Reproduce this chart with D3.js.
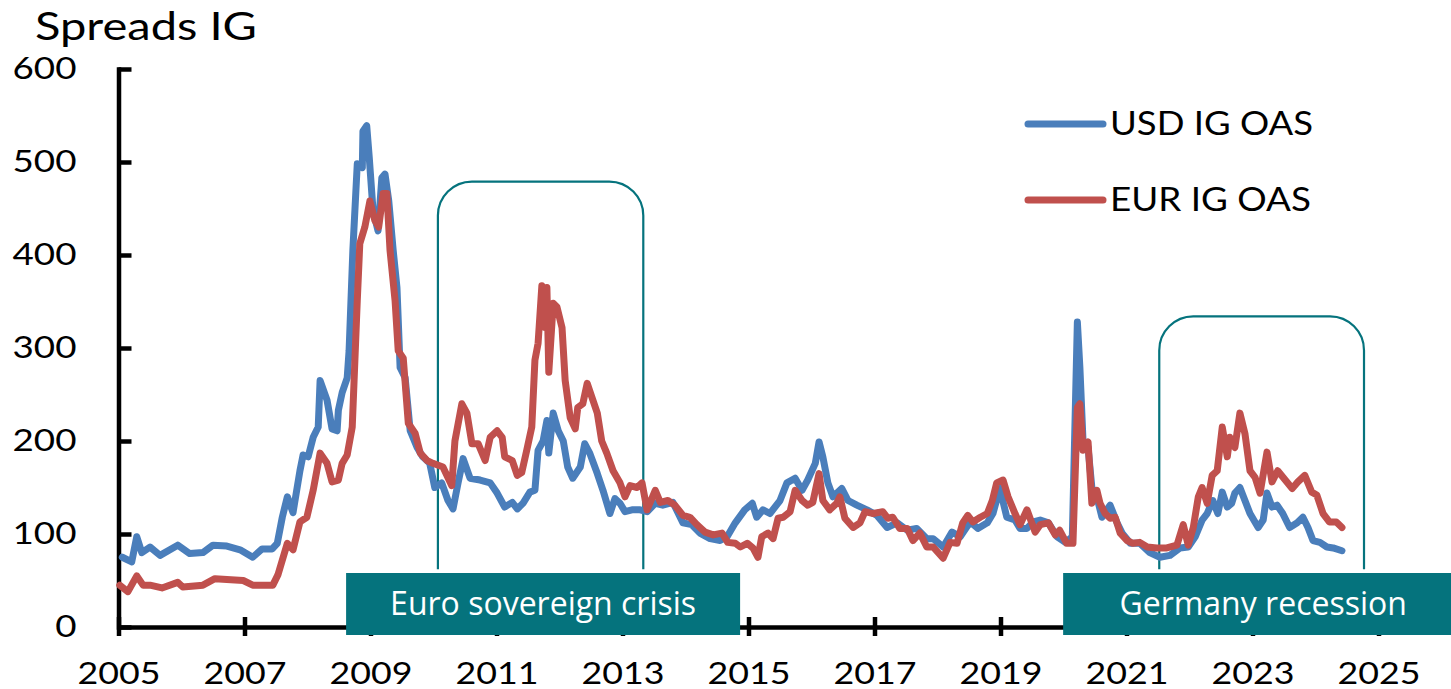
<!DOCTYPE html>
<html>
<head>
<meta charset="utf-8">
<script src="https://cdn.jsdelivr.net/npm/d3@7"></script>
<style>
  body { margin: 0; background: #fff; }
  svg text { font-family: Lato, "Open Sans", sans-serif; }
</style>
</head>
<body>
<svg id="chart" width="1451" height="689"></svg>
<script>
// ---- data ----
const yearTicks = [2005, 2007, 2009, 2011, 2013, 2015, 2017, 2019, 2021, 2023, 2025];
const valueTicks = [0, 100, 200, 300, 400, 500, 600];
const seriesNames = ["USD IG OAS", "EUR IG OAS"];

// [decimal year, spread in bp]
const usdSeries = [
  [2005.06,75],[2005.21,70],[2005.29,97],[2005.37,80],[2005.50,86],[2005.66,77],[2005.94,88],
  [2006.13,79],[2006.34,80],[2006.50,88],[2006.72,87],[2006.93,83],[2007.13,75],[2007.28,84],
  [2007.44,84],[2007.52,90],[2007.60,118],[2007.68,140],[2007.77,123],[2007.88,168],[2007.93,185],
  [2008.01,183],[2008.09,204],[2008.17,215],[2008.20,265],[2008.31,244],[2008.39,213],[2008.47,211],
  [2008.49,233],[2008.55,252],[2008.63,268],[2008.66,297],[2008.72,405],[2008.79,498],[2008.87,494],
  [2008.88,533],[2008.94,539],[2008.98,505],[2009.04,448],[2009.12,426],[2009.18,483],[2009.23,487],
  [2009.29,458],[2009.36,405],[2009.42,365],[2009.47,279],[2009.55,268],[2009.63,211],[2009.74,193],
  [2009.83,183],[2009.94,176],[2010.02,150],[2010.13,155],[2010.23,136],[2010.31,127],[2010.39,155],
  [2010.47,181],[2010.58,160],[2010.74,158],[2010.90,155],[2011.01,144],[2011.13,129],[2011.25,134],
  [2011.33,127],[2011.42,133],[2011.53,145],[2011.61,147],[2011.66,190],[2011.74,200],[2011.80,222],
  [2011.83,187],[2011.90,230],[2011.98,211],[2012.06,200],[2012.13,172],[2012.21,160],[2012.33,172],
  [2012.40,197],[2012.48,187],[2012.60,165],[2012.69,147],[2012.80,122],[2012.88,138],[2012.96,133],
  [2013.04,124],[2013.15,126],[2013.28,126],[2013.39,124],[2013.52,133],[2013.64,131],[2013.80,134],
  [2013.96,112],[2014.10,110],[2014.23,101],[2014.39,95],[2014.55,93],[2014.66,97],[2014.79,112],
  [2014.94,126],[2015.06,133],[2015.13,118],[2015.23,126],[2015.34,122],[2015.50,136],[2015.61,155],
  [2015.74,160],[2015.85,147],[2015.94,158],[2016.06,176],[2016.12,199],[2016.18,183],[2016.26,155],
  [2016.34,140],[2016.48,149],[2016.58,136],[2016.72,131],[2016.88,126],[2017.04,120],[2017.20,107],
  [2017.36,112],[2017.52,104],[2017.67,106],[2017.83,95],[2017.93,95],[2018.09,86],[2018.23,102],
  [2018.36,97],[2018.52,113],[2018.64,106],[2018.79,112],[2018.88,122],[2018.99,149],[2019.10,118],
  [2019.23,115],[2019.31,106],[2019.42,106],[2019.52,113],[2019.63,115],[2019.76,112],[2019.90,97],
  [2020.03,91],[2020.14,97],[2020.22,328],[2020.26,279],[2020.31,200],[2020.39,193],[2020.45,150],
  [2020.53,140],[2020.61,118],[2020.69,126],[2020.74,131],[2020.85,112],[2020.93,101],[2021.06,90],
  [2021.21,90],[2021.37,80],[2021.53,75],[2021.69,77],[2021.85,85],[2021.98,86],[2022.09,97],
  [2022.20,115],[2022.28,122],[2022.37,136],[2022.45,122],[2022.52,145],[2022.60,129],[2022.67,133],
  [2022.72,144],[2022.80,150],[2022.88,136],[2022.96,122],[2023.09,107],[2023.17,115],[2023.23,144],
  [2023.31,129],[2023.39,131],[2023.48,122],[2023.59,107],[2023.71,112],[2023.80,118],[2023.88,107],
  [2023.96,93],[2024.07,91],[2024.18,86],[2024.28,85],[2024.42,82]
];

const eurSeries = [
  [2005.02,45],[2005.15,38],[2005.29,55],[2005.39,45],[2005.50,45],[2005.69,42],[2005.94,48],
  [2006.02,43],[2006.34,45],[2006.53,52],[2006.72,51],[2006.98,50],[2007.13,45],[2007.45,45],
  [2007.53,56],[2007.68,90],[2007.77,83],[2007.88,113],[2007.99,118],[2008.09,147],[2008.20,187],
  [2008.31,176],[2008.39,156],[2008.49,158],[2008.55,176],[2008.63,185],[2008.71,215],[2008.79,351],
  [2008.83,412],[2008.91,430],[2008.99,458],[2009.07,437],[2009.13,430],[2009.20,466],[2009.26,466],
  [2009.31,405],[2009.39,351],[2009.44,297],[2009.52,289],[2009.60,219],[2009.71,208],[2009.79,187],
  [2009.90,179],[2009.99,176],[2010.15,172],[2010.29,152],[2010.34,200],[2010.45,240],[2010.53,230],
  [2010.61,197],[2010.71,197],[2010.82,179],[2010.90,204],[2011.01,211],[2011.09,204],[2011.13,183],
  [2011.25,179],[2011.33,163],[2011.40,166],[2011.48,190],[2011.56,215],[2011.61,287],[2011.66,305],
  [2011.72,367],[2011.77,322],[2011.80,365],[2011.83,274],[2011.90,348],[2011.96,344],[2012.04,322],
  [2012.09,265],[2012.17,225],[2012.25,213],[2012.29,236],[2012.37,240],[2012.44,262],[2012.48,254],
  [2012.60,230],[2012.67,200],[2012.75,187],[2012.85,168],[2012.96,155],[2013.04,140],[2013.12,152],
  [2013.23,150],[2013.31,155],[2013.39,126],[2013.52,147],[2013.60,134],[2013.72,136],[2013.83,131],
  [2013.96,120],[2014.07,118],[2014.18,110],[2014.31,102],[2014.44,99],[2014.58,101],[2014.67,91],
  [2014.79,90],[2014.87,86],[2014.98,90],[2015.07,85],[2015.15,75],[2015.21,97],[2015.31,101],
  [2015.39,95],[2015.47,117],[2015.55,118],[2015.66,124],[2015.74,147],[2015.85,136],[2015.94,131],
  [2016.02,134],[2016.12,165],[2016.18,136],[2016.29,126],[2016.40,133],[2016.45,140],[2016.53,117],
  [2016.66,107],[2016.77,112],[2016.85,124],[2016.98,122],[2017.13,124],[2017.21,117],[2017.29,118],
  [2017.40,106],[2017.52,106],[2017.61,93],[2017.72,101],[2017.83,86],[2017.93,86],[2018.09,74],
  [2018.20,91],[2018.31,90],[2018.40,112],[2018.48,120],[2018.56,113],[2018.68,118],[2018.79,122],
  [2018.87,136],[2018.94,155],[2019.04,158],[2019.12,140],[2019.23,122],[2019.31,110],[2019.42,126],
  [2019.55,102],[2019.63,110],[2019.76,112],[2019.87,99],[2019.94,104],[2020.05,90],[2020.15,90],
  [2020.22,236],[2020.26,240],[2020.31,190],[2020.39,199],[2020.45,133],[2020.53,147],[2020.58,133],
  [2020.66,122],[2020.74,117],[2020.82,118],[2020.90,101],[2021.01,93],[2021.10,90],[2021.21,91],
  [2021.33,86],[2021.48,85],[2021.64,85],[2021.80,88],[2021.90,110],[2021.98,88],[2022.06,107],
  [2022.14,140],[2022.20,150],[2022.28,133],[2022.36,163],[2022.44,168],[2022.52,215],[2022.60,183],
  [2022.64,204],[2022.72,193],[2022.80,230],[2022.88,208],[2022.96,168],[2023.04,161],[2023.12,144],
  [2023.23,188],[2023.31,156],[2023.40,168],[2023.52,158],[2023.63,149],[2023.72,156],[2023.83,163],
  [2023.94,145],[2024.02,142],[2024.12,122],[2024.22,113],[2024.33,113],[2024.42,107]
];

// highlighted episodes: label, start year, end year
const episodeLabels = ["Euro sovereign crisis", "Germany recession"];
const episodeStarts = [2010.07, 2021.52];
const episodeEnds = [2013.33, 2024.77];

// ---- drawing ----
const svg = d3.select("#chart");
const colors = ["#4A7EBB", "#C0504D"];
const teal = "#05737D";

const x = d3.scaleLinear().domain([2005, 2025]).range([118.5, 1378.5]);
const y = d3.scaleLinear().domain([0, 600]).range([627, 69]);

// the chart's own text is widened in the reference; scale a text so its width matches
function widen(sel, targetWidth, tx, ty) {
  const w = sel.node().getComputedTextLength();
  const s = targetWidth / w;
  return `translate(${tx},${ty}) scale(${s},1)`;
}

// title
const title = svg.append("text").attr("font-size", 39).attr("fill", "#000").text("Spreads IG");
title.attr("transform", widen(title, 222, 35, 40));

// brackets over episodes (drawn under the lines)
const bracketTops = [479, 334];
episodeLabels.forEach((lab, i) => {
  const l = x(episodeStarts[i]), r = x(episodeEnds[i]);
  const t = y(bracketTops[i]), b = y(62), rad = 34;
  svg.append("path")
    .attr("d", `M${l},${b}V${t + rad}A${rad},${rad} 0 0 1 ${l + rad},${t}H${r - rad}A${rad},${rad} 0 0 1 ${r},${t + rad}V${b}`)
    .attr("fill", "none").attr("stroke", teal).attr("stroke-width", 2.2);
});

// y axis
const gy = svg.append("g").attr("transform", `translate(${x(2005)},0)`)
  .call(d3.axisLeft(y).tickValues(valueTicks).tickSizeOuter(0).tickSizeInner(-13).tickPadding(42));
gy.attr("font-family", null).attr("font-size", 31);
gy.select(".domain").attr("stroke", "#000").attr("stroke-width", 4.5).attr("stroke-linecap", "square");
gy.selectAll(".tick line").attr("stroke", "#000").attr("stroke-width", 4.5);
const ySample = gy.select(".tick:last-of-type text");
const yScaleX = 64 / ySample.node().getComputedTextLength();
gy.selectAll(".tick text").attr("x", 0)
  .attr("transform", `translate(-42,0) scale(${yScaleX},1)`);

// x axis
const gx = svg.append("g").attr("transform", `translate(0,${y(0)})`)
  .call(d3.axisBottom(x).tickValues(yearTicks).tickFormat(d3.format("d")).tickSizeOuter(0).tickSizeInner(10));
gx.attr("font-family", null).attr("font-size", 31);
gx.select(".domain").attr("stroke", "#000").attr("stroke-width", 4.5);
gx.selectAll(".tick line").attr("y1", -10).attr("y2", 9).attr("stroke", "#000").attr("stroke-width", 4.5);
const xSample = gx.select(".tick text");
const xScaleX = 83 / xSample.node().getComputedTextLength();
gx.selectAll(".tick text").attr("y", 0).attr("dy", null)
  .attr("transform", `translate(0,57) scale(${xScaleX},1)`);

// series lines
const line = d3.line().x(d => x(d[0])).y(d => y(d[1]));
[usdSeries, eurSeries].forEach((s, i) => {
  svg.append("path").datum(s)
    .attr("d", line)
    .attr("fill", "none")
    .attr("stroke", colors[i])
    .attr("stroke-width", 7)
    .attr("stroke-linejoin", "round")
    .attr("stroke-linecap", "round");
});

// legend
const legendRows = [124, 200];
seriesNames.forEach((name, i) => {
  svg.append("line")
    .attr("x1", 1028).attr("x2", 1103).attr("y1", legendRows[i]).attr("y2", legendRows[i])
    .attr("stroke", colors[i]).attr("stroke-width", 7).attr("stroke-linecap", "round");
  const t = svg.append("text").attr("font-size", 32).attr("fill", "#000").text(name);
  t.attr("transform", widen(t, i === 0 ? 203 : 201, 1110, legendRows[i] + 11));
});

// episode label boxes (sit on top of the x axis)
const boxWidths = [394, 392];
episodeLabels.forEach((lab, i) => {
  const cx = (x(episodeStarts[i]) + x(episodeEnds[i])) / 2 + (i === 0 ? 2.5 : -2.5);
  svg.append("rect")
    .attr("x", cx - boxWidths[i] / 2).attr("y", 573)
    .attr("width", boxWidths[i]).attr("height", 62)
    .attr("fill", teal);
  svg.append("text")
    .attr("x", cx + (i === 0 ? 0 : 4)).attr("y", 615)
    .attr("text-anchor", "middle")
    .style("font-family", "'Open Sans', sans-serif")
    .attr("font-size", 32).attr("fill", "#fff")
    .text(lab);
});
</script>
</body>
</html>
